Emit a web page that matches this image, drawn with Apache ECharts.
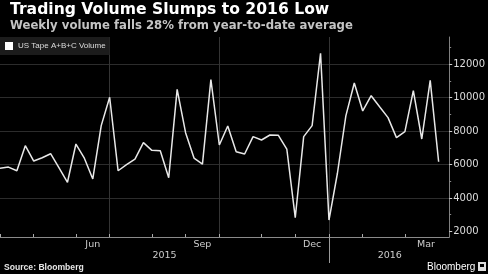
<!DOCTYPE html>
<html><head><meta charset="utf-8">
<script src="https://cdn.jsdelivr.net/npm/echarts@6/dist/echarts.min.js"></script>
<style>html,body{margin:0;padding:0;background:#000;}#c{width:488px;height:274px;}</style>
</head><body><div id="c"></div>
<script>
// Weekly US Tape A+B+C volume (index = week number, Apr 2015 .. Mar 2016)
const seriesName = 'US Tape A+B+C Volume';
const volume = [
  5780, 5850, 5630, 7130, 6210, 6410, 6650, 5800, 4940, 7230,
  6380, 5140, 8330, 10030, 5630, 5990, 6330, 7310, 6850, 6830,
  5210, 10500, 7910, 6390, 6030, 11080, 7170, 8310, 6770, 6630,
  7670, 7470, 7770, 7750, 6930, 2820, 7670, 8330, 12660, 2680,
  5480, 8910, 10880, 9210, 10120, 9460, 8810, 7610, 7970, 10420,
  7530, 11040, 6170
];
// x-axis: week indices where months start, month labels, years
const monthTickWeeks = [0, 4, 9, 13, 18, 22, 26, 31, 35, 39, 43, 48];
const monthLabels = ['Jun', 'Sep', 'Dec', 'Mar'];
const monthLabelWeeks = [11, 24, 37, 50.5];
const yearLabels = ['2015', '2016'];
const yearLabelWeeks = [19.5, 46.2];
const yearBreakWeeks = [39];
const quarterWeeks = [13, 26, 39];
// y-axis
const yTicks = [2000, 4000, 6000, 8000, 10000, 12000];
const yGrid = [4000, 6000, 8000, 10000, 12000];
const yMinorTicks = [3000, 5000, 7000, 9000, 11000, 13000];

const X_MIN = 0, X_MAX = 53.25, Y_MIN = 1666, Y_MAX = 13633;
const DJ = "'DejaVu Sans', sans-serif";

function lookup(keys, labels) {
  return function (v) {
    for (let i = 0; i < keys.length; i++) if (Math.abs(keys[i] - v) < 1e-6) return labels[i];
    return '';
  };
}

const chart = echarts.init(document.getElementById('c'), null, {renderer: 'canvas'});
const baseX = {type: 'value', min: X_MIN, max: X_MAX, position: 'bottom', gridIndex: 0};
const baseY = {type: 'value', min: Y_MIN, max: Y_MAX, position: 'right', gridIndex: 0};

chart.setOption({
  backgroundColor: '#000',
  animation: false,
  title: [
    {text: 'Trading Volume Slumps to 2016 Low', left: 10, top: 2, padding: 0,
     textStyle: {color: '#ffffff', fontSize: 15.6, fontWeight: 'bold', fontFamily: DJ}},
    {text: 'Weekly volume falls 28% from year-to-date average', left: 10, top: 20, padding: 0,
     textStyle: {color: '#c4c4c4', fontSize: 11.7, fontWeight: 'bold', fontFamily: DJ}},
    {text: 'Source: Bloomberg', left: 4, top: 263, padding: 0,
     textStyle: {color: '#e6e6e6', fontSize: 8.6, fontWeight: 'bold', fontFamily: "'Liberation Sans', sans-serif"}},
    {text: 'Bloomberg', left: 427, top: 262, padding: 0,
     textStyle: {color: '#ffffff', fontSize: 10, fontWeight: 'normal', fontFamily: "'Liberation Sans', sans-serif"}}
  ],
  graphic: [
    {type: 'rect', left: 478, top: 262, shape: {width: 8, height: 9}, style: {fill: '#dddddd'}},
    {type: 'rect', left: 480, top: 264, shape: {width: 4, height: 3}, style: {fill: '#000'}}
  ],
  legend: {
    left: 0, top: 37, padding: [5, 4, 5, 5],
    backgroundColor: '#1c1c1c',
    icon: 'rect', itemWidth: 8, itemHeight: 8,
    data: [seriesName],
    textStyle: {color: '#dddddd', fontSize: 8, fontFamily: "'Liberation Sans', sans-serif"}
  },
  grid: {left: 0, right: 37, top: 37, bottom: 37},
  xAxis: [
    Object.assign({}, baseX, {
      axisLine: {show: true, onZero: false, lineStyle: {color: '#8a8a8a', width: 1}},
      axisTick: {show: true, inside: true, length: 3, customValues: monthTickWeeks, lineStyle: {color: '#aaaaaa'}},
      axisLabel: {show: true, customValues: monthLabelWeeks, formatter: lookup(monthLabelWeeks, monthLabels),
                  color: '#cccccc', fontSize: 9.5, fontFamily: DJ, margin: 3},
      splitLine: {show: false}
    }),
    Object.assign({}, baseX, {
      axisLine: {show: false, onZero: false},
      axisTick: {show: true, length: 26, customValues: yearBreakWeeks, lineStyle: {color: '#9a9a9a'}},
      axisLabel: {show: true, customValues: yearLabelWeeks, formatter: lookup(yearLabelWeeks, yearLabels),
                  color: '#cccccc', fontSize: 9.5, fontFamily: DJ, margin: 14},
      splitLine: {show: false}
    }),
    Object.assign({}, baseX, {
      axisLine: {show: false, onZero: false},
      axisTick: {show: false, customValues: quarterWeeks},
      axisLabel: {show: false},
      splitLine: {show: true, lineStyle: {color: '#343434', width: 1}}
    })
  ],
  yAxis: [
    Object.assign({}, baseY, {
      axisLine: {show: true, onZero: false, lineStyle: {color: '#808080', width: 1}},
      axisTick: {show: true, length: 3, customValues: yTicks, lineStyle: {color: '#cccccc'}},
      axisLabel: {show: true, customValues: yTicks, formatter: v => String(Math.round(v)),
                  color: '#dddddd', fontSize: 10, fontFamily: DJ, margin: 4},
      splitLine: {show: false}
    }),
    Object.assign({}, baseY, {
      axisLine: {show: false, onZero: false},
      axisTick: {show: false, customValues: yGrid},
      axisLabel: {show: false},
      splitLine: {show: true, lineStyle: {color: '#2c2c2c', width: 1}}
    }),
    Object.assign({}, baseY, {
      axisLine: {show: false, onZero: false},
      axisTick: {show: true, length: 2, customValues: yMinorTicks, lineStyle: {color: '#888888'}},
      axisLabel: {show: false},
      splitLine: {show: false}
    })
  ],
  series: [{
    name: seriesName,
    type: 'line',
    xAxisIndex: 0, yAxisIndex: 0,
    symbol: 'none',
    color: '#ffffff',
    lineStyle: {color: '#e8e8e8', width: 1.5},
    data: volume.map((v, i) => [i, v])
  }]
});
</script></body></html>
